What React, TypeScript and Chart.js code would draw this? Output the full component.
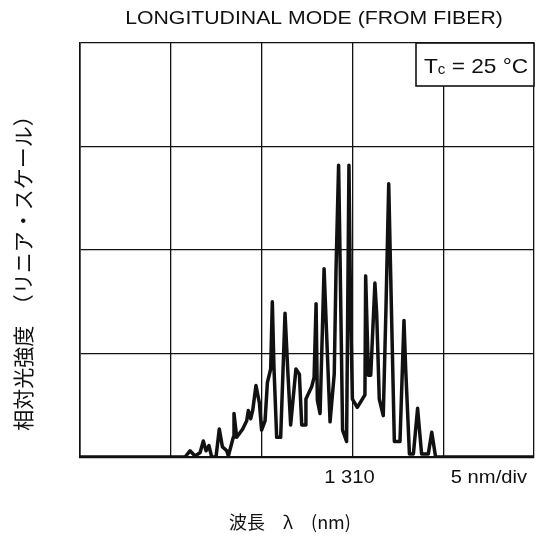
import React, { useEffect, useRef } from "react";
import { Chart, registerables } from "chart.js";

Chart.register(...registerables);

// wavelength (nm) and relative intensity (divisions, linear scale)
const wavelengthNm = [
  1295, 1300.78, 1301.06, 1301.33, 1301.61, 1301.79, 1301.94, 1302.1, 1302.25, 1302.49,
  1302.67, 1302.84, 1303.08, 1303.17, 1303.44, 1303.48, 1303.63, 1303.96, 1304.18, 1304.27,
  1304.4, 1304.51, 1304.69, 1304.88, 1305.0, 1305.19, 1305.32, 1305.5, 1305.59, 1305.68,
  1305.83, 1306.05, 1306.29, 1306.44, 1306.6, 1306.89, 1307.08, 1307.21, 1307.39, 1307.44,
  1307.76, 1307.89, 1308.0, 1308.07, 1308.22, 1308.44, 1308.55, 1308.77, 1309.0, 1309.1,
  1309.24, 1309.32, 1309.46, 1309.68, 1309.81, 1309.9, 1310.0, 1310.27, 1310.69, 1310.73,
  1310.88, 1311.01, 1311.24, 1311.34, 1311.48, 1311.7, 1311.85, 1312.0, 1312.11, 1312.31,
  1312.62, 1312.84, 1312.93, 1313.14, 1313.36, 1313.59, 1313.81, 1314.18, 1314.37, 1314.58,
  1320,
];
const relIntensity = [
  0, 0, 0.06, 0.01, 0.04, 0.155, 0.06, 0.11, 0, 0,
  0.27, 0.1, 0.06, 0.01, 0.19, 0.42, 0.19, 0.27, 0.35, 0.45,
  0.37, 0.45, 0.69, 0.52, 0.26, 0.35, 0.72, 0.85, 1.5, 0.87,
  0.19, 0.19, 1.39, 0.84, 0.31, 0.85, 0.8, 0.31, 0.31, 0.56,
  0.68, 0.77, 1.48, 0.55, 0.42, 1.82, 1.32, 0.34, 0.8, 1.82,
  2.82, 1.93, 0.26, 0.15, 2.82, 1.45, 0.56, 0.48, 0.6, 1.75,
  0.79, 0.79, 1.68, 1.37, 0.56, 0.4, 1.45, 2.64, 1.74, 0.15,
  0.15, 1.32, 0.87, 0.03, 0.03, 0.47, 0.03, 0.03, 0.24, 0,
  0,
];
const xGridNm = [1295, 1300, 1305, 1310, 1315, 1320];
const yGridDiv = [0, 1, 2, 3, 4];
const centerWavelength = 1310;
const centerLabel = "1 310";
const scaleLabel = "5 nm/div";
const titleText = "LONGITUDINAL MODE (FROM FIBER)";
const xTitle = "波長　λ　(nm)";
const yTitle = "相対光強度　（リニア・スケール）";
const tempLabel = { sym: "T", sub: "c", rest: " = 25 °C" };

const LATIN = '"Liberation Sans", Arial, Helvetica, sans-serif';
const CJK = '"Noto Sans CJK JP", "Noto Sans CJK SC", sans-serif';

function drawStretched(
  ctx: CanvasRenderingContext2D,
  s: string,
  x: number,
  y: number,
  font: string,
  align: CanvasTextAlign,
  sx: number
) {
  ctx.save();
  ctx.translate(x, y);
  ctx.scale(sx, 1);
  ctx.font = font;
  ctx.textAlign = align;
  ctx.textBaseline = "middle";
  ctx.fillText(s, 0, 0);
  ctx.restore();
}

const textPlugin = {
  id: "textPlugin",
  afterDraw(chart: any) {
    const ctx: CanvasRenderingContext2D = chart.ctx;
    const area = chart.chartArea;
    const xs = chart.scales.x;
    ctx.save();
    ctx.fillStyle = "#111";
    const cx = (area.left + area.right) / 2;
    drawStretched(ctx, titleText, cx + 7, 19, `18px ${LATIN}`, "center", 1.18);

    drawStretched(ctx, centerLabel, xs.getPixelForValue(centerWavelength) - 3, area.bottom + 21, `18px ${LATIN}`, "center", 1.12);
    drawStretched(ctx, scaleLabel, area.right - 7, area.bottom + 21, `18px ${LATIN}`, "right", 1.12);

    ctx.font = `18px ${CJK}`;
    ctx.textAlign = "center";
    ctx.textBaseline = "middle";
    ctx.fillText(xTitle, cx - 17, area.bottom + 65);

    ctx.save();
    ctx.translate(23, (area.top + area.bottom) / 2 + 18);
    ctx.rotate(-Math.PI / 2);
    ctx.font = `21px ${CJK}`;
    ctx.fillText(yTitle, 0, 0);
    ctx.restore();

    // temperature box
    const bx = area.right - 118;
    const by = area.top;
    const bw = 118;
    const bh = 43;
    ctx.fillStyle = "#fff";
    ctx.fillRect(bx, by, bw, bh);
    ctx.strokeStyle = "#111";
    ctx.lineWidth = 1.6;
    ctx.strokeRect(bx, by, bw, bh);
    ctx.fillStyle = "#111";
    ctx.textAlign = "left";
    ctx.textBaseline = "alphabetic";
    const base = by + 30;
    let tx = bx + 8;
    const sx = 1.08;
    ctx.save();
    ctx.translate(tx, base);
    ctx.scale(sx, 1);
    let lx = 0;
    ctx.font = `21px ${LATIN}`;
    ctx.fillText(tempLabel.sym, lx, 0);
    lx += ctx.measureText(tempLabel.sym).width;
    ctx.font = `14px ${LATIN}`;
    ctx.fillText(tempLabel.sub, lx, 1);
    lx += ctx.measureText(tempLabel.sub).width;
    ctx.font = `21px ${LATIN}`;
    ctx.fillText(tempLabel.rest, lx, 0);
    ctx.restore();
    ctx.restore();
  },
};

export default function App() {
  const ref = useRef<HTMLCanvasElement | null>(null);
  useEffect(() => {
    if (!ref.current) return;
    const points = wavelengthNm.map((x, i) => ({ x, y: relIntensity[i] }));
    const chart = new Chart(ref.current, {
      type: "line",
      data: {
        datasets: [
          {
            data: points,
            borderColor: "#111",
            borderWidth: 3.5,
            pointRadius: 0,
            tension: 0,
            borderJoinStyle: "round",
            fill: false,
          },
        ],
      },
      options: {
        responsive: false,
        animation: false,
        events: [],
        layout: { padding: { left: 80, top: 43, right: 5, bottom: 83 } },
        plugins: { legend: { display: false }, tooltip: { enabled: false }, title: { display: false } },
        scales: {
          x: {
            type: "linear",
            min: xGridNm[0],
            max: xGridNm[xGridNm.length - 1],
            afterBuildTicks: (s: any) => {
              s.ticks = xGridNm.map((v) => ({ value: v }));
            },
            ticks: { display: false },
            grid: { color: "#111", lineWidth: 1.3, drawTicks: false },
            border: { color: "#111", width: 2.2 },
          },
          y: {
            type: "linear",
            min: yGridDiv[0],
            max: yGridDiv[yGridDiv.length - 1],
            afterBuildTicks: (s: any) => {
              s.ticks = yGridDiv.map((v) => ({ value: v }));
            },
            ticks: { display: false },
            grid: { color: "#111", lineWidth: 1.3, drawTicks: false },
            border: { color: "#111", width: 1.6 },
          },
        },
      },
      plugins: [textPlugin],
    });
    return () => chart.destroy();
  }, []);
  return (
    <div style={{ position: "absolute", left: 0, top: 0, width: 539, height: 540, background: "#fff" }}>
      <canvas ref={ref} width={539} height={540} />
    </div>
  );
}
